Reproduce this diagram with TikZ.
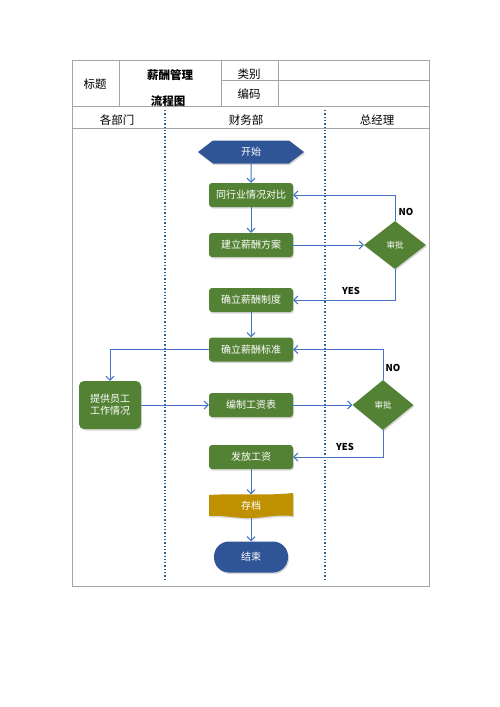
\documentclass[tikz,border=0pt]{standalone}
\usepackage{fontspec}
\setmainfont{Noto Sans CJK SC}
\usetikzlibrary{shapes.geometric,shapes.symbols,shadows,arrows.meta}
\definecolor{procgreen}{RGB}{84,130,53}
\definecolor{termblue}{RGB}{47,85,151}
\definecolor{archgold}{RGB}{191,144,0}
\definecolor{flowblue}{RGB}{68,114,196}
\definecolor{lanedot}{RGB}{46,95,150}
\definecolor{gridgray}{RGB}{165,165,165}

\begin{document}
\begin{tikzpicture}[x=1pt,y=-1pt,>={Straight Barb[length=4pt,width=8pt]}]
\tikzstyle{every node}=[font=\fontsize{10}{12}\selectfont]
\tikzstyle{grid}=[draw=gridgray,line width=0.8pt]
\tikzstyle{lane}=[draw=lanedot,dotted,line width=1.3pt]
\tikzstyle{soft}=[drop shadow={opacity=0.3,shadow xshift=1pt,shadow yshift=-1.5pt}]
\tikzstyle{proc}=[rectangle,rounded corners=3pt,fill=procgreen,text=white,minimum width=84pt,minimum height=24pt,inner sep=1pt,soft]
\tikzstyle{decide}=[diamond,fill=procgreen,text=white,inner sep=0pt,font=\fontsize{8.5}{10}\selectfont,soft]
\tikzstyle{flow}=[draw=flowblue,line width=1pt,->]
\tikzstyle{answer}=[font=\bfseries\fontsize{9.5}{11}\selectfont]
\tikzstyle{head}=[font=\fontsize{11.5}{13}\selectfont]
\useasboundingbox (0,0) rectangle (500,707);

% table frame
\draw[grid] (72,60) rectangle (429,586);
\draw[grid] (119,60) -- (119,106) (221,60) -- (221,106) (278,60) -- (278,106);
\draw[grid] (221,80) -- (429,80);
\draw[grid] (72,106) -- (429,106) (72,128) -- (429,128);
\node[head] (title) at (95,84) {标题};
\node[head,font=\bfseries\fontsize{11.5}{13}\selectfont] (name1) at (170,75) {薪酬管理};
\node[head,font=\bfseries\fontsize{11.5}{13}\selectfont] (name2) at (168,101) {流程图};
\node[head] (kind) at (249,74) {类别};
\node[head] (code) at (249,94) {编码};
\node[head] (dept) at (117,120) {各部门};
\node[head] (fin) at (246,120) {财务部};
\node[head] (gm) at (377,120) {总经理};

% swim lanes
\draw[lane] (165,110) -- (165,580);
\draw[lane] (325,110) -- (325,580);

% shapes
\node[signal,signal to=west and east,signal pointer angle=75,fill=termblue,text=white,minimum width=106pt,minimum height=23pt,inner sep=1pt,soft] (start) at (251,152) {开始};
\node[proc] (compare) at (251,195) {同行业情况对比};
\node[proc] (plan) at (251,245) {建立薪酬方案};
\node[decide,minimum width=62pt,minimum height=48pt] (review1) at (395,245) {审批};
\node[proc] (system) at (251,300) {确立薪酬制度};
\node[proc] (standard) at (251,349.5) {确立薪酬标准};
\node[proc,rounded corners=5pt,minimum width=62pt,minimum height=48pt,align=center] (info) at (110,405) {提供员工\\工作情况};
\node[proc] (payroll) at (251,405) {编制工资表};
\node[decide,minimum width=61pt,minimum height=50pt] (review2) at (383,405) {审批};
\node[proc] (pay) at (251,457) {发放工资};
\fill[archgold,soft] (209,495) .. controls (240,493) and (265,496) .. (293,493) -- (293,516)
  .. controls (272,514) and (262,519) .. (244,518) .. controls (228,517) and (218,515) .. (209,516) -- cycle;
\node[text=white,minimum width=84pt,minimum height=23pt] (archive) at (251,506) {存档};
\node[rectangle,rounded corners=15pt,fill=termblue,text=white,minimum width=74pt,minimum height=31pt,soft] (finish) at (251,557) {结束};

% connectors
\draw[flow] (start) -- (compare);
\draw[flow] (compare) -- (plan);
\draw[flow] (plan) -- (review1);
\draw[flow] (review1.north) |- (compare.east);
\draw[flow] (review1.south) |- (system.east);
\draw[flow] (system) -- (standard);
\draw[flow] (standard.west) -| (info.north);
\draw[flow] (info) -- (payroll);
\draw[flow] (payroll) -- (review2);
\draw[flow] (review2.north) |- (standard.east);
\draw[flow] (review2.south) |- (pay.east);
\draw[flow] (pay) -- (archive);
\draw[flow] (archive) -- (finish);
\node[answer] (no1) at (406,212) {NO};
\node[answer] (yes1) at (351,291) {YES};
\node[answer] (no2) at (393,368) {NO};
\node[answer] (yes2) at (345,447) {YES};
\end{tikzpicture}
\end{document}
